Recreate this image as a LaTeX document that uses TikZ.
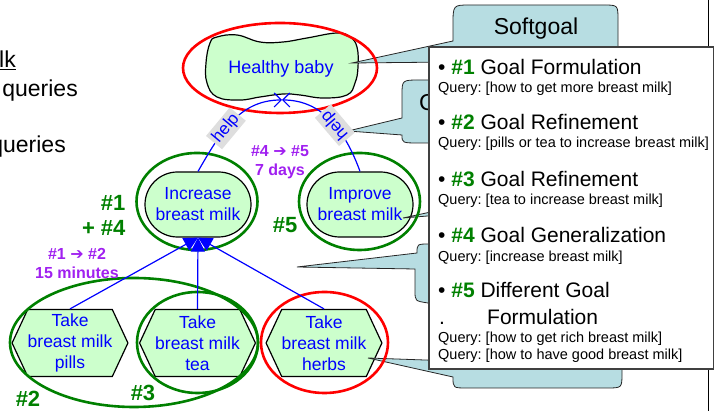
\documentclass[tikz,border=0pt]{standalone}
\usepackage{fontspec}
\setmainfont{Liberation Sans}
\newfontfamily\symfont{DejaVu Sans}
\usetikzlibrary{shapes.geometric, shapes.misc, shapes.symbols, arrows.meta}
\definecolor{goalgreen}{RGB}{204,255,204}
\definecolor{ringgreen}{RGB}{0,128,0}
\definecolor{linkblue}{RGB}{0,0,255}
\definecolor{timepurple}{RGB}{160,32,240}
\definecolor{callblue}{RGB}{183,221,226}
\definecolor{boxgray}{RGB}{64,64,64}
\frenchspacing

\begin{document}
\begin{tikzpicture}[
    x=1pt, y=1pt,
    goal/.style={draw, line width=1.2pt, fill=goalgreen, rounded rectangle, minimum width=106pt, minimum height=65pt, inner sep=0pt, align=center, text=linkblue, font=\fontsize{17.5}{21}\selectfont},
    task/.style={draw, line width=1.2pt, fill=goalgreen, signal, signal to=east and west, signal pointer angle=130, minimum width=104pt, minimum height=67pt, inner sep=0pt, align=center, text=linkblue, font=\fontsize{17.5}{21}\selectfont},
    ring/.style={draw=ringgreen, line width=2.6pt, ellipse, inner sep=0pt},
    redring/.style={ring, draw=red},
    link/.style={draw=linkblue, line width=1.2pt},
    helplabel/.style={fill=black!13, text=linkblue, font=\fontsize{17}{19}\selectfont, inner sep=2.5pt, sloped},
    tag/.style={text=ringgreen, font=\bfseries\fontsize{22}{25}\selectfont},
    timing/.style={text=timepurple, align=center, font=\bfseries\fontsize{16}{19}\selectfont},
    callout/.style={draw=black!85, fill=callblue, line width=0.8pt},
    heading/.style={anchor=base west, inner sep=0pt, font=\fontsize{21}{24}\selectfont},
    query/.style={anchor=base west, inner sep=0pt, font=\fontsize{14.5}{17}\selectfont},
    slidetext/.style={inner sep=0pt, font=\fontsize{23}{27}\selectfont}
]
    \useasboundingbox (0,0) rectangle (714,411);
    \clip (0,0) rectangle (714,411);

    % Slide edge and cut-off text
    \draw[line width=0.8pt] (708,0) -- (708,411);
    \node[slidetext, anchor=base west] (lk) at (-1,343) {\underline{lk}};
    \node[slidetext, anchor=base east] (qa) at (78,314) {queries};
    \node[slidetext, anchor=base east] (qb) at (66,258) {queries};

    % Softgoal
    \draw[line width=1.2pt, fill=goalgreen] plot[smooth cycle, tension=0.7] coordinates {(217,374) (237,376) (260,369) (283,369) (307,373) (337,378) (350,374) (357,364) (358,344) (355,328) (347,316) (323,313) (300,316) (283,317) (260,314) (240,311) (217,314) (207,328) (206,348) (210,368)};
    \node[text=linkblue, font=\fontsize{18}{21}\selectfont] (hb) at (281,342.5) {Healthy baby};
    \coordinate (hbtip) at (282,311);

    % Goals
    \node[goal] (incr) at (198,206.5) {Increase\\breast milk};
    \node[goal] (impr) at (360,206.5) {Improve\\breast milk};

    % Tasks
    \node[task] (pills) at (70,68) {Take\\breast milk\\pills};
    \node[task] (tea) at (197.5,68) {Take\\breast milk\\tea};
    \node[task] (herbs) at (324,68) {Take\\breast milk\\herbs};

    % Callouts
    \draw[callout] (453,349) -- (352,348) -- (453,370) -- (453,386) .. controls (453,406) .. (470,406) -- (603,406) .. controls (618,406) .. (618,391) -- (618,340) -- (453,340) -- cycle;
    \node[slidetext] (sgtext) at (536,382) {Softgoal};
    \draw[callout] (348,280) -- (402,293) -- (402,316) .. controls (402,331) .. (420,331) -- (440,331) -- (440,268) -- (420,268) .. controls (402,268) .. (402,276) -- cycle;
    \node[slidetext, anchor=west] (ctext) at (419,308.5) {C};
    \draw[callout] (403,193) -- (440,201) -- (440,196) -- cycle;
    \draw[callout] (297,144) -- (417,158) .. controls (417,167) .. (430,167) -- (440,167) -- (440,108) -- (428,108) .. controls (415,110) .. (415,120) -- (415,142) -- cycle;
    \draw[callout] (368,53) -- (453,50) -- (453,80) -- (622,80) -- (622,38) .. controls (622,23) .. (607,23) -- (467,23) .. controls (453,23) .. (453,34) -- cycle;

    % Rings
    \node[redring, minimum width=194pt, minimum height=90pt] (hbring) at (280,343) {};
    \node[ring, minimum width=121pt, minimum height=97pt] (incrring) at (197,209.5) {};
    \node[ring, minimum width=121pt, minimum height=97pt] (imprring) at (359.5,209.5) {};
    \node[ring, minimum width=248pt, minimum height=129pt] (ring2) at (134,68.5) {};
    \node[ring, minimum width=121pt, minimum height=101pt] (ring3) at (197.5,68.5) {};
    \node[redring, minimum width=127pt, minimum height=101pt] (herbsring) at (324.5,68.5) {};

    % Links
    \draw[link, -{Straight Barb[length=7pt,width=14pt]}] (incr.north) to[out=60, in=180] node[helplabel, pos=0.42] (helpa) {help} (hbtip);
    \draw[link, -{Straight Barb[length=7pt,width=14pt]}] (impr.north) to[out=110, in=0] node[helplabel, allow upside down, pos=0.45] (helpb) {help} (hbtip);
    \foreach \t in {pills, tea, herbs}
        \draw[link, -{Triangle[length=14pt,width=14pt]}] (\t.north) -- (incr.south);

    % Labels
    \node[tag, align=right, anchor=east] (tag14) at (129,195.5) {\#1\\+ \#4};
    \node[tag] (tag5) at (285,186) {\#5};
    \node[tag] (tag2) at (28,12) {\#2};
    \node[tag] (tag3) at (143,18) {\#3};
    \node[timing] (time12) at (77,147.5) {\#1 {\symfont ➔} \#2\\15 minutes};
    \node[timing] (time45) at (280,248.5) {\#4 {\symfont ➔} \#5\\7 days};

    % Notes box
    \node[draw=boxgray, fill=white, line width=1.5pt, minimum width=285pt, minimum height=322pt, anchor=south west, inner sep=0pt] (notes) at (428,41) {};
    \node[heading] (h1) at (438,336) {• \textcolor{ringgreen}{\textbf{\#1}} Goal Formulation};
    \node[query] (q1) at (438,318) {Query: [how to get more breast milk]};
    \node[heading] (h2) at (438,281) {• \textcolor{ringgreen}{\textbf{\#2}} Goal Refinement};
    \node[query] (q2) at (438,263) {Query: [pills or tea to increase breast milk]};
    \node[heading] (h3) at (438,224) {• \textcolor{ringgreen}{\textbf{\#3}} Goal Refinement};
    \node[query] (q3) at (438,206) {Query: [tea to increase breast milk]};
    \node[heading] (h4) at (438,168) {• \textcolor{ringgreen}{\textbf{\#4}} Goal Generalization};
    \node[query] (q4) at (438,149) {Query: [increase breast milk]};
    \node[heading] (h5) at (438,113) {• \textcolor{ringgreen}{\textbf{\#5}} Different Goal};
    \node[heading] (h5dot) at (439,86) {.};
    \node[heading] (h5b) at (487,86) {Formulation};
    \node[query] (q5a) at (438,68) {Query: [how to get rich breast milk]};
    \node[query] (q5b) at (438,51) {Query: [how to have good breast milk]};
\end{tikzpicture}
\end{document}
